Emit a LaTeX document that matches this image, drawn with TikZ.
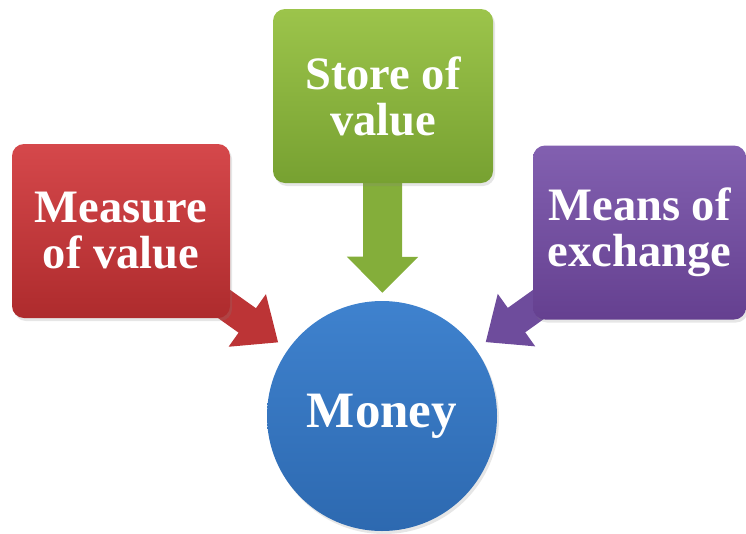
\documentclass[tikz,border=0pt]{standalone}
\usepackage{fontspec}
\setmainfont{Liberation Serif}
\usetikzlibrary{arrows.meta,shadows}

\definecolor{redtop}{HTML}{D5484B}
\definecolor{redbot}{HTML}{AE2B2D}
\definecolor{redarr}{HTML}{BC3436}
\definecolor{greentop}{HTML}{9CC44B}
\definecolor{greenbot}{HTML}{77A131}
\definecolor{greenarr}{HTML}{84AE3A}
\definecolor{purpletop}{HTML}{8260B0}
\definecolor{purplebot}{HTML}{654090}
\definecolor{purplearr}{HTML}{6E4C9C}
\definecolor{bluetop}{HTML}{3F82CE}
\definecolor{bluebot}{HTML}{2D69B0}

\pgfdeclarelayer{bg}
\pgfsetlayers{bg,main}

\tikzset{
  card/.style={rounded corners=12pt, minimum width=218pt, minimum height=174pt,
    inner sep=0pt, align=center, text=white,
    font=\bfseries\fontsize{46.5}{46}\selectfont,
    drop shadow={opacity=0.2, shadow xshift=2pt, shadow yshift=-3pt}},
  feed/.style={line width=30pt, -{Triangle[width=62pt,length=38pt]},
    shorten >=12pt, shorten <=-30pt},
}

\begin{document}
\begin{tikzpicture}[x=1pt,y=-1pt]
  \useasboundingbox (0,0) rectangle (746,533);

  \node[circle, minimum size=230pt, inner sep=0pt, top color=bluetop, bottom color=bluebot,
    text=white, font=\bfseries\fontsize{51}{52}\selectfont,
    drop shadow={opacity=0.2, shadow xshift=2pt, shadow yshift=-3pt}] (money) at (382,416) {Money};

  \node[card, top color=greentop, bottom color=greenbot, minimum width=220pt] (store) at (383,96) {Store of\\value};
  \node[card, top color=redtop, bottom color=redbot] (measure) at (121,231) {Measure\\of value};
  \node[card, top color=purpletop, bottom color=purplebot, minimum width=213pt] (means) at (639.5,232.5) {Means of\\exchange};

  % arrows into money
  \begin{pgfonlayer}{bg}
    \draw[feed, redarr] (measure) -- (money);
    \draw[feed, purplearr] (means) -- (money);
    \draw[feed, greenarr, line width=39pt, -{Triangle[width=69pt,length=36pt]}, shorten >=8pt]
      (store) -- (money);
  \end{pgfonlayer}
\end{tikzpicture}
\end{document}
